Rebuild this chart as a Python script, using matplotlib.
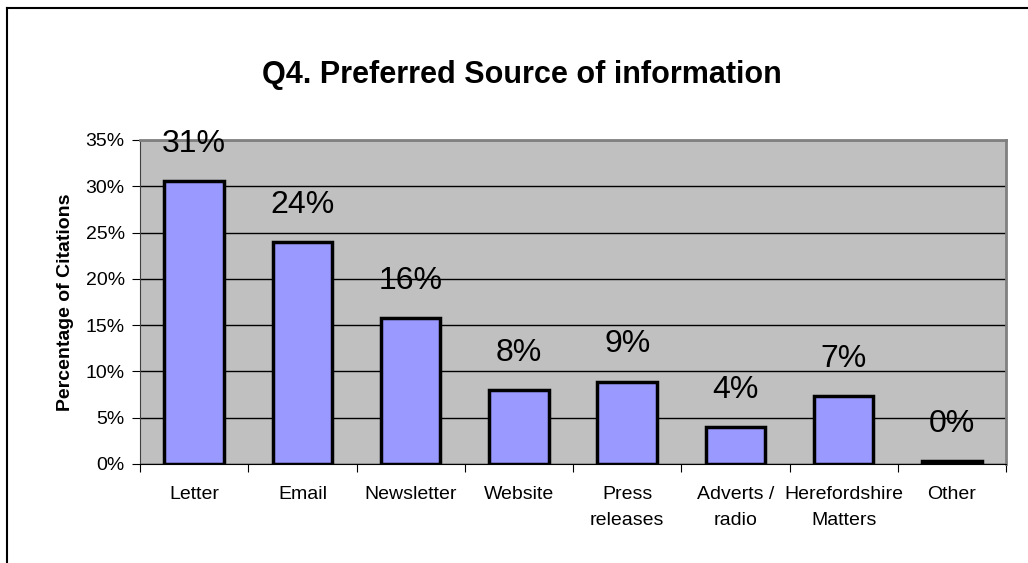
import numpy as np
import matplotlib.pyplot as plt
from matplotlib.lines import Line2D
from matplotlib.ticker import PercentFormatter, FixedLocator

plt.rcParams['font.family'] = ['Liberation Sans', 'DejaVu Sans']

# Chart data
categories = ['Letter', 'Email', 'Newsletter', 'Website', 'Press\nreleases',
              'Adverts /\nradio', 'Herefordshire\nMatters', 'Other']
values = [30.6, 24.0, 15.8, 8.0, 8.9, 4.0, 7.3, 0.3]
labels = ['31%', '24%', '16%', '8%', '9%', '4%', '7%', '0%']

fig = plt.figure(figsize=(10.28, 5.63), dpi=100)
ax = fig.add_axes([140 / 1028, 1 - 464 / 563, 866 / 1028, 324 / 563])

# outer chart border (left and top only visible)
fig.add_artist(Line2D([6.5 / 1028, 6.5 / 1028], [0, 1 - 8 / 563], color='black', lw=1.5))
fig.add_artist(Line2D([6.5 / 1028, 1], [1 - 8 / 563, 1 - 8 / 563], color='black', lw=1.5))

x = np.arange(len(categories))
ax.set_facecolor('#C0C0C0')
ax.bar(x, values, width=0.55, color='#9999FF', edgecolor='black', linewidth=2.5, zorder=3)

for xi, v, lab in zip(x, values, labels):
    ax.annotate(lab, (xi, v), xytext=(0, 16), textcoords='offset points',
                ha='center', va='bottom', fontsize=23)

ax.set_xlim(-0.5, len(categories) - 0.5)
ax.set_ylim(0, 35)
ax.set_yticks(np.arange(0, 36, 5))
ax.yaxis.set_major_formatter(PercentFormatter(decimals=0))
ax.yaxis.grid(True, color='black', lw=1, zorder=1)
ax.set_axisbelow(True)

ax.xaxis.set_major_locator(FixedLocator(np.arange(-0.5, len(categories), 1)))
ax.xaxis.set_major_formatter(plt.NullFormatter())
ax.xaxis.set_minor_locator(FixedLocator(x))
ax.set_xticklabels(categories, minor=True, linespacing=1.7)
ax.tick_params(axis='x', which='minor', length=0, pad=16, labelsize=14)
ax.tick_params(axis='x', which='major', length=6, direction='out')
ax.tick_params(axis='y', length=6, direction='out', labelsize=14, pad=5)

for s in ['top', 'right']:
    ax.spines[s].set_color('#808080')
    ax.spines[s].set_linewidth(2)
ax.spines['bottom'].set_color('black')
ax.spines['left'].set_color('#404040')

ax.set_ylabel('Percentage of Citations', fontsize=14, fontweight='bold', labelpad=8)
fig.text(522 / 1028, 1 - 75 / 563, 'Q4. Preferred Source of information',
         ha='center', va='center', fontsize=22, fontweight='bold')

fig.savefig('out.png', dpi=100)
